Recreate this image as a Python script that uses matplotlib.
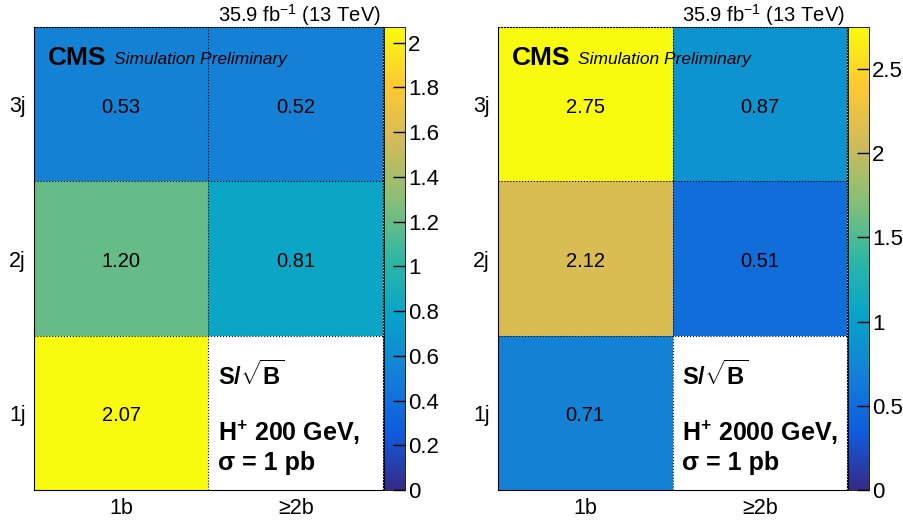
import numpy as np
import matplotlib
matplotlib.use('Agg')
import matplotlib.pyplot as plt
from matplotlib.colors import LinearSegmentedColormap

plt.rcParams['font.family'] = ['Liberation Sans', 'DejaVu Sans']
plt.rcParams['mathtext.fontset'] = 'custom'
plt.rcParams['mathtext.rm'] = 'Liberation Sans'
plt.rcParams['mathtext.it'] = 'Liberation Sans:italic'
plt.rcParams['mathtext.bf'] = 'Liberation Sans:bold'

# data: rows are jet bins (bottom to top), columns are b-tag bins
jet_labels = ['1j', '2j', '3j']
btag_labels = ['1b', '\u22652b']
sig_200 = [[2.07, np.nan],
           [1.20, 0.81],
           [0.53, 0.52]]
sig_2000 = [[0.71, np.nan],
            [2.12, 0.51],
            [2.75, 0.87]]
masses = ['200', '2000']
cbar_ticks_200 = [0, 0.2, 0.4, 0.6, 0.8, 1, 1.2, 1.4, 1.6, 1.8, 2]
cbar_ticks_2000 = [0, 0.5, 1, 1.5, 2, 2.5]

# ROOT kBird (parula-like) palette
stops = [0.0, 0.125, 0.25, 0.375, 0.5, 0.625, 0.75, 0.875, 1.0]
red = [0.2082, 0.0592, 0.0780, 0.0232, 0.1802, 0.5301, 0.8186, 0.9956, 0.9764]
green = [0.1664, 0.3599, 0.5041, 0.6419, 0.7178, 0.7492, 0.7328, 0.7862, 0.9832]
blue = [0.5293, 0.8684, 0.8385, 0.7914, 0.6425, 0.4662, 0.3499, 0.1968, 0.0539]
bird = LinearSegmentedColormap.from_list(
    'bird', list(zip(stops, zip(red, green, blue))), N=255)
bird.set_bad('white')

W, H = 904, 523
fig = plt.figure(figsize=(W / 100, H / 100), dpi=100)


def fx(px):
    return px / W


def fy(px):
    return 1 - px / H


panels = [
    (sig_200, masses[0], cbar_ticks_200, 34),
    (sig_2000, masses[1], cbar_ticks_2000, 498),
]

for values, mass, cticks, x0 in panels:
    z = np.array(values, dtype=float)
    top, bottom, width = 27, 490, 349
    ax = fig.add_axes([fx(x0), fy(bottom), fx(width), (bottom - top) / H])
    cax = fig.add_axes([fx(x0 + width + 1), fy(bottom), fx(21), (bottom - top) / H])

    vmax = np.nanmax(z)
    mesh = ax.pcolormesh(np.arange(3), np.arange(4), np.ma.masked_invalid(z),
                         cmap=bird, vmin=0, vmax=vmax)
    ax.set_xlim(0, 2)
    ax.set_ylim(0, 3)

    # cell borders
    ax.axvline(1, color='black', ls=':', lw=0.8)
    for yy in (1, 2):
        ax.axhline(yy, color='black', ls=':', lw=0.8)
    for side in ('top', 'right'):
        ax.spines[side].set_linestyle(':')
        ax.spines[side].set_linewidth(0.8)

    ax.set_xticks([0.5, 1.5])
    ax.set_xticklabels(btag_labels, fontsize=15.5)
    ax.set_yticks([0.5, 1.5, 2.5])
    ax.set_yticklabels(jet_labels, fontsize=15.5)
    ax.tick_params(length=0, pad=6)

    for i in range(z.shape[0]):
        for j in range(z.shape[1]):
            if not np.isnan(z[i, j]):
                ax.text(j + 0.5, i + 0.48, f'{z[i, j]:.2f}', ha='center', va='center',
                        fontsize=14.5)

    # labels
    ax.text(0.04, 0.933, 'CMS', transform=ax.transAxes, fontsize=19,
            fontweight='bold', va='center')
    ax.text(0.23, 0.93, 'Simulation Preliminary', transform=ax.transAxes,
            fontsize=12.5, style='italic', va='center')
    fig.text(fx(x0 + width - 2), fy(15), r'35.9 fb$^{-1}$ (13 TeV)',
             fontsize=14.5, ha='right', va='center')

    ax.text(1.054, 0.745, r'$\mathbf{S/}\sqrt{\mathbf{B}}$', fontsize=17, va='center')
    ax.text(1.054, 0.369, r'$\mathbf{H^{+}}$ ' + mass + ' GeV,', fontsize=18,
            fontweight='bold', va='center')
    ax.text(1.054, 0.175, '\u03c3 = 1 pb', fontsize=18, fontweight='bold', va='center')

    cb = fig.colorbar(mesh, cax=cax)
    cb.set_ticks(cticks)
    cb.set_ticklabels([f'{t:g}' for t in cticks])
    cb.outline.set_linewidth(0.6)
    cax.tick_params(direction='in', length=9, width=1, labelsize=16, pad=2)

fig.savefig('out.png', dpi=100)
